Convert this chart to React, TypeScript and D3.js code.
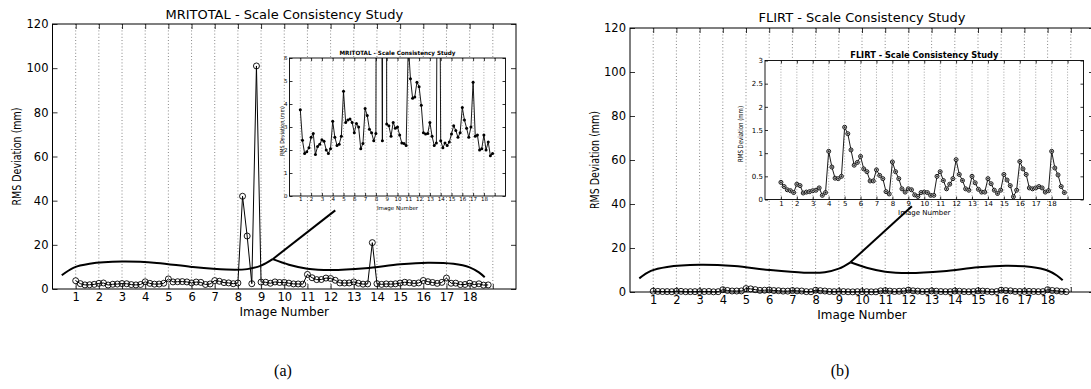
import { useEffect, useRef } from "react";
import * as d3 from "d3";

const FONT = "'DejaVu Sans', Verdana, sans-serif";

// x axis: image numbers (the 19th grid line has no label)
const imageTicks = [1, 2, 3, 4, 5, 6, 7, 8, 9, 10, 11, 12, 13, 14, 15, 16, 17, 18, 19];
const imageTickLabels = ["1", "2", "3", "4", "5", "6", "7", "8", "9", "10", "11", "12", "13", "14", "15", "16", "17", "18", ""];
// five scalings per image, plotted at image + offset
const scaleOffsets = [0, 0.2, 0.4, 0.6, 0.8];

const mainYTicks = [0, 20, 40, 60, 80, 100, 120];
const mritotalInsetTicks = [0, 1, 2, 3, 4, 5, 6];
const flirtInsetTicks = [0, 0.5, 1, 1.5, 2, 2.5, 3];

// RMS deviation (mm), 5 values per image
const mritotalRms = [
    3.75, 2.42, 1.85, 1.92, 2.1,
    2.55, 2.72, 1.8, 2.15, 2.25,
    2.45, 2.38, 2.0, 1.85, 2.05,
    3.25, 2.55, 2.2, 2.25, 2.6,
    4.55, 3.2, 3.3, 3.35, 3.2,
    2.75, 3.15, 3.0, 2.05, 2.28,
    3.8, 3.5, 2.9, 2.75, 2.4,
    2.72, 42.0, 24.0, 2.4, 101.0,
    3.13, 3.05, 2.6, 3.2, 2.95,
    3.0, 2.65, 2.3, 2.28, 2.2,
    6.6, 5.1, 4.25, 4.3, 4.95,
    4.75, 3.95, 2.75, 2.7, 2.72,
    3.2, 2.6, 2.2, 2.3, 21.0,
    2.4, 2.1, 2.3, 2.2, 2.35,
    2.7, 3.05, 2.85, 2.55, 2.75,
    3.85, 3.3, 2.95, 2.55, 3.0,
    4.95, 2.6, 2.65, 2.0, 2.05,
    2.65, 2.0, 2.35, 1.75, 1.85,
];

const flirtRms = [
    0.37, 0.28, 0.21, 0.19, 0.15,
    0.33, 0.3, 0.14, 0.16, 0.17,
    0.19, 0.2, 0.25, 0.09, 0.15,
    1.04, 0.7, 0.46, 0.45, 0.5,
    1.56, 1.42, 1.07, 0.74, 0.8,
    0.93, 0.66, 0.6, 0.4, 0.4,
    0.64, 0.52, 0.45, 0.17, 0.12,
    0.81, 0.6, 0.45, 0.23, 0.16,
    0.23, 0.21, 0.1, 0.065, 0.15,
    0.16, 0.15, 0.09, 0.09, 0.5,
    0.6, 0.41, 0.23, 0.33, 0.45,
    0.86, 0.54, 0.41, 0.23, 0.2,
    0.5, 0.36, 0.22, 0.16, 0.16,
    0.45, 0.34, 0.2, 0.13, 0.2,
    0.54, 0.42, 0.3, 0.06, 0.2,
    0.82, 0.66, 0.54, 0.25, 0.23,
    0.25, 0.28, 0.25, 0.16, 0.19,
    1.04, 0.68, 0.53, 0.28, 0.15,
];

// "magnifier" brace drawn in data units of the main axes
const braceLeft: [number, number][] = [
    [0.4, 6.2], [0.9, 9.6], [1.6, 11.4], [3.0, 12.4], [4.5, 11.8],
    [6.0, 10.0], [7.5, 8.8], [8.4, 9.0], [9.0, 10.6], [9.5, 13.5],
];
const braceRight: [number, number][] = [
    [9.5, 13.5], [10.2, 11.0], [11.0, 9.2], [12.0, 8.6], [13.5, 9.4],
    [15.0, 11.2], [16.2, 11.9], [17.3, 11.4], [18.0, 9.8], [18.4, 7.5], [18.65, 5.3],
];
const mritotalPointer: [number, number][] = [[9.5, 13.5], [12.2, 35.6]];
const flirtPointer: [number, number][] = [[9.5, 13.5], [12.15, 39]];

type Box = { left: number; right: number; top: number; bottom: number };

type PanelSpec = {
    id: string;
    title: string;
    values: number[];
    main: Box;
    inset: Box;
    insetMax: number;
    insetTicks: number[];
    pointer: [number, number][];
    marker: "dot" | "ring";
    insetFont: number;
    insetTitleFont: number;
    insetTitleLen: number;
    insetYLabelLen: number;
    yLabelX: number;
    insetYLabelX: number;
    titleY: number;
    insetTitleY: number;
    insetXLabelY: number;
    xLabelY: number;
};

const styleAxis = (sel: any, size: number) => {
    sel.select(".domain").remove();
    sel.selectAll("line").attr("stroke", "#000").attr("stroke-width", 0.8);
    sel.selectAll("text").attr("font-family", FONT).attr("font-size", size).attr("fill", "#000");
};

function drawPanel(root: any, p: PanelSpec) {
    const { main, inset } = p;
    const g = root.append("g");

    const x = d3.scaleLinear().domain([0, 20]).range([main.left, main.right]);
    const y = d3.scaleLinear().domain([0, 120]).range([main.bottom, main.top]);
    const points: [number, number][] = p.values.map((v, i) => [
        imageTicks[Math.floor(i / 5)] + scaleOffsets[i % 5],
        v,
    ]);

    // dotted grid
    g.append("g")
        .selectAll("line")
        .data(imageTicks)
        .join("line")
        .attr("x1", (d: number) => x(d))
        .attr("x2", (d: number) => x(d))
        .attr("y1", main.top)
        .attr("y2", main.bottom)
        .attr("stroke", "#555")
        .attr("stroke-width", 0.7)
        .attr("stroke-dasharray", "1 2.2");

    // axes (MATLAB style, ticks inward on all four sides)
    g.append("g")
        .attr("transform", `translate(0,${main.bottom})`)
        .call(
            d3.axisBottom(x)
                .tickValues(imageTicks)
                .tickFormat((d: any) => imageTickLabels[imageTicks.indexOf(d)])
                .tickSizeInner(-5)
                .tickSizeOuter(0)
                .tickPadding(4)
        )
        .call((s: any) => styleAxis(s, 11.5));
    g.append("g")
        .attr("transform", `translate(0,${main.top})`)
        .call(d3.axisTop(x).tickValues(imageTicks).tickFormat(() => "").tickSizeInner(-5).tickSizeOuter(0))
        .call((s: any) => styleAxis(s, 11.5));
    g.append("g")
        .attr("transform", `translate(${main.left},0)`)
        .call(d3.axisLeft(y).tickValues(mainYTicks).tickSizeInner(-5).tickSizeOuter(0).tickPadding(4))
        .call((s: any) => styleAxis(s, 11.5));
    g.append("g")
        .attr("transform", `translate(${main.right},0)`)
        .call(d3.axisRight(y).tickValues(mainYTicks).tickFormat(() => "").tickSizeInner(-5).tickSizeOuter(0))
        .call((s: any) => styleAxis(s, 11.5));

    g.append("rect")
        .attr("x", main.left)
        .attr("y", main.top)
        .attr("width", main.right - main.left)
        .attr("height", main.bottom - main.top)
        .attr("fill", "none")
        .attr("stroke", "#000")
        .attr("stroke-width", 1);

    // data
    const line = d3.line<[number, number]>().x((d) => x(d[0])).y((d) => y(d[1]));
    g.append("path").attr("d", line(points)).attr("fill", "none").attr("stroke", "#000").attr("stroke-width", 1);
    g.append("g")
        .selectAll("circle")
        .data(points)
        .join("circle")
        .attr("cx", (d: [number, number]) => x(d[0]))
        .attr("cy", (d: [number, number]) => y(d[1]))
        .attr("r", 3)
        .attr("fill", "none")
        .attr("stroke", "#000")
        .attr("stroke-width", 0.9);

    // brace and pointer
    const brace = d3.line<[number, number]>().x((d) => x(d[0])).y((d) => y(d[1])).curve(d3.curveCatmullRom.alpha(0.5));
    [braceLeft, braceRight].forEach((b) =>
        g.append("path").attr("d", brace(b)).attr("fill", "none").attr("stroke", "#000").attr("stroke-width", 2)
    );
    g.append("path").attr("d", line(p.pointer)).attr("stroke", "#000").attr("stroke-width", 2);

    // labels
    g.append("text")
        .attr("x", (main.left + main.right) / 2)
        .attr("y", p.titleY)
        .attr("text-anchor", "middle")
        .attr("font-family", FONT)
        .attr("font-size", 13)
        .text(p.title);
    g.append("text")
        .attr("x", (main.left + main.right) / 2)
        .attr("y", p.xLabelY)
        .attr("text-anchor", "middle")
        .attr("font-family", FONT)
        .attr("font-size", 12)
        .text("Image Number");
    g.append("text")
        .attr("transform", `translate(${p.yLabelX},${(main.top + main.bottom) / 2}) rotate(-90)`)
        .attr("text-anchor", "middle")
        .attr("font-family", FONT)
        .attr("font-size", 12.5)
        .attr("textLength", 98)
        .attr("lengthAdjust", "spacingAndGlyphs")
        .text("RMS Deviation (mm)");

    // ----- inset -----
    const ig = g.append("g");
    const xi = d3.scaleLinear().domain([0, 20]).range([inset.left, inset.right]);
    const yi = d3.scaleLinear().domain([0, p.insetMax]).range([inset.bottom, inset.top]);
    const fs = p.insetFont;

    ig.append("rect")
        .attr("x", inset.left)
        .attr("y", inset.top)
        .attr("width", inset.right - inset.left)
        .attr("height", inset.bottom - inset.top)
        .attr("fill", "#fff");

    ig.append("g")
        .selectAll("line")
        .data(imageTicks)
        .join("line")
        .attr("x1", (d: number) => xi(d))
        .attr("x2", (d: number) => xi(d))
        .attr("y1", inset.top)
        .attr("y2", inset.bottom)
        .attr("stroke", "#666")
        .attr("stroke-width", 0.6)
        .attr("stroke-dasharray", "1 1.8");

    ig.append("g")
        .attr("transform", `translate(0,${inset.bottom})`)
        .call(
            d3.axisBottom(xi)
                .tickValues(imageTicks)
                .tickFormat((d: any) => imageTickLabels[imageTicks.indexOf(d)])
                .tickSizeInner(-3)
                .tickSizeOuter(0)
                .tickPadding(1.2)
        )
        .call((s: any) => styleAxis(s, fs));
    ig.append("g")
        .attr("transform", `translate(0,${inset.top})`)
        .call(d3.axisTop(xi).tickValues(imageTicks).tickFormat(() => "").tickSizeInner(-3).tickSizeOuter(0))
        .call((s: any) => styleAxis(s, fs));
    ig.append("g")
        .attr("transform", `translate(${inset.left},0)`)
        .call(d3.axisLeft(yi).tickValues(p.insetTicks).tickFormat(d3.format("~g")).tickSizeInner(-3).tickSizeOuter(0).tickPadding(2))
        .call((s: any) => styleAxis(s, fs));
    ig.append("g")
        .attr("transform", `translate(${inset.right},0)`)
        .call(d3.axisRight(yi).tickValues(p.insetTicks).tickFormat(() => "").tickSizeInner(-3).tickSizeOuter(0))
        .call((s: any) => styleAxis(s, fs));

    const clipId = `clip-${p.id}`;
    ig.append("clipPath")
        .attr("id", clipId)
        .append("rect")
        .attr("x", inset.left)
        .attr("y", inset.top)
        .attr("width", inset.right - inset.left)
        .attr("height", inset.bottom - inset.top);

    const iline = d3.line<[number, number]>().x((d) => xi(d[0])).y((d) => yi(d[1]));
    const dg = ig.append("g").attr("clip-path", `url(#${clipId})`);
    dg.append("path").attr("d", iline(points)).attr("fill", "none").attr("stroke", "#000").attr("stroke-width", 0.9);

    const shown = points.filter((d) => d[1] <= p.insetMax);
    if (p.marker === "dot") {
        dg.append("g")
            .selectAll("circle")
            .data(shown)
            .join("circle")
            .attr("cx", (d: [number, number]) => xi(d[0]))
            .attr("cy", (d: [number, number]) => yi(d[1]))
            .attr("r", 1.5)
            .attr("fill", "#000");
    } else {
        const mk = dg.append("g").selectAll("g").data(shown).join("g")
            .attr("transform", (d: [number, number]) => `translate(${xi(d[0])},${yi(d[1])})`);
        mk.append("circle").attr("r", 2).attr("fill", "#fff").attr("stroke", "#000").attr("stroke-width", 0.9);
        mk.append("path").attr("d", "M-1.3,0H1.3M0,-1.3V1.3").attr("stroke", "#000").attr("stroke-width", 0.7);
    }

    ig.append("rect")
        .attr("x", inset.left)
        .attr("y", inset.top)
        .attr("width", inset.right - inset.left)
        .attr("height", inset.bottom - inset.top)
        .attr("fill", "none")
        .attr("stroke", "#000")
        .attr("stroke-width", 0.9);

    ig.append("text")
        .attr("x", (inset.left + inset.right) / 2)
        .attr("y", p.insetTitleY)
        .attr("text-anchor", "middle")
        .attr("font-family", FONT)
        .attr("font-weight", "bold")
        .attr("font-size", p.insetTitleFont)
        .attr("textLength", p.insetTitleLen)
        .attr("lengthAdjust", "spacingAndGlyphs")
        .text(p.title);
    ig.append("text")
        .attr("x", (inset.left + inset.right) / 2)
        .attr("y", p.insetXLabelY)
        .attr("text-anchor", "middle")
        .attr("font-family", FONT)
        .attr("font-size", fs)
        .text("Image Number");
    ig.append("text")
        .attr("transform", `translate(${p.insetYLabelX},${(inset.top + inset.bottom) / 2 + 4}) rotate(-90)`)
        .attr("text-anchor", "middle")
        .attr("font-family", FONT)
        .attr("font-size", fs)
        .attr("textLength", p.insetYLabelLen)
        .attr("lengthAdjust", "spacingAndGlyphs")
        .text("RMS Deviation (mm)");
}

const App = () => {
    const ref = useRef<SVGSVGElement>(null);

    useEffect(() => {
        if (!ref.current) return;
        const svg = d3.select(ref.current);
        svg.selectAll("*").remove();

        svg.append("rect").attr("width", 1091).attr("height", 389).attr("fill", "#fff");

        drawPanel(svg, {
            id: "a",
            title: "MRITOTAL - Scale Consistency Study",
            values: mritotalRms,
            main: { left: 52.5, right: 516, top: 24, bottom: 289 },
            inset: { left: 289.5, right: 505.5, top: 58, bottom: 196 },
            insetMax: 6,
            insetTicks: mritotalInsetTicks,
            pointer: mritotalPointer,
            marker: "dot",
            insetFont: 5.5,
            insetTitleFont: 5.8,
            insetTitleLen: 116,
            insetYLabelLen: 50,
            yLabelX: 21,
            insetYLabelX: 283.5,
            titleY: 19,
            insetTitleY: 54.5,
            insetXLabelY: 209.5,
            xLabelY: 315.5,
        });

        drawPanel(svg, {
            id: "b",
            title: "FLIRT - Scale Consistency Study",
            values: flirtRms,
            main: { left: 630, right: 1094, top: 28, bottom: 292 },
            inset: { left: 765, right: 1083.5, top: 60.5, bottom: 199.5 },
            insetMax: 3,
            insetTicks: flirtInsetTicks,
            pointer: flirtPointer,
            marker: "ring",
            insetFont: 7,
            insetTitleFont: 8,
            insetTitleLen: 148,
            insetYLabelLen: 56,
            yLabelX: 599,
            insetYLabelX: 743,
            titleY: 21.5,
            insetTitleY: 58,
            insetXLabelY: 214.5,
            xLabelY: 318.5,
        });

        // sub-figure captions
        [
            { label: "(a)", cx: 283 },
            { label: "(b)", cx: 840 },
        ].forEach((c) =>
            svg.append("text")
                .attr("x", c.cx)
                .attr("y", 376)
                .attr("text-anchor", "middle")
                .attr("font-family", "'Liberation Serif', 'Times New Roman', serif")
                .attr("font-size", 16)
                .text(c.label)
        );
    }, []);

    return (
        <div style={{ position: "absolute", left: 0, top: 0 }}>
            <svg ref={ref} width={1091} height={389} style={{ display: "block" }} />
        </div>
    );
};

export default App;
